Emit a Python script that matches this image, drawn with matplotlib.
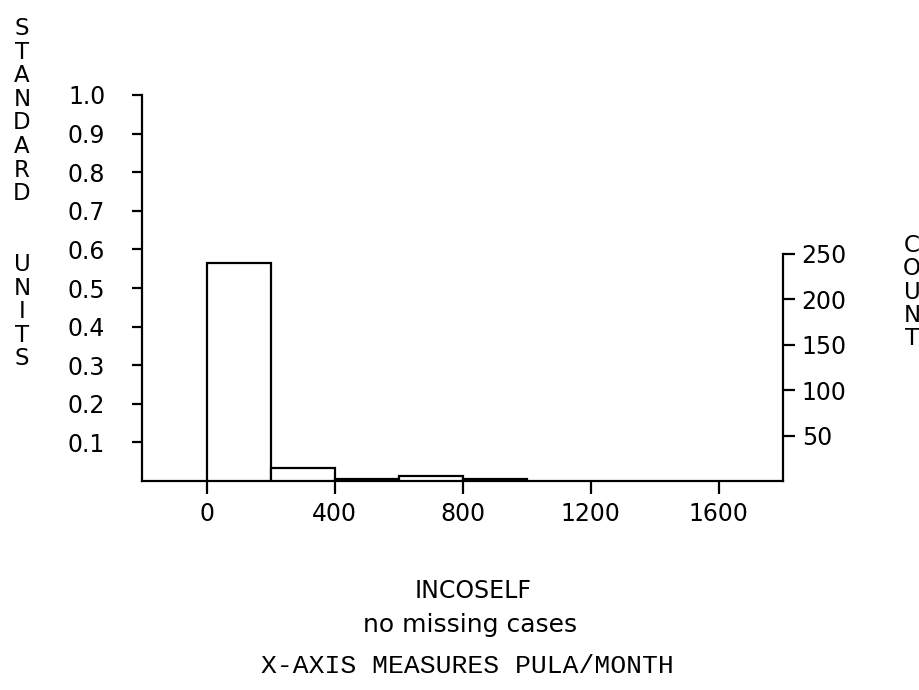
import matplotlib
matplotlib.use("Agg")
import matplotlib.pyplot as plt

# histogram of INCOSELF (pula/month)
bin_edges = [0, 200, 400, 600, 800, 1000]
counts = [240, 14, 2, 5, 2]
n_total = 425  # count that equals 1.0 standard unit

x_ticks = [0, 400, 800, 1200, 1600]
left_ticks = [0.1, 0.2, 0.3, 0.4, 0.5, 0.6, 0.7, 0.8, 0.9, 1.0]
right_ticks = [50, 100, 150, 200, 250]

W, H = 920, 690
fig = plt.figure(figsize=(W / 100, H / 100), dpi=100)
ax = fig.add_axes([142 / W, 1 - 481 / H, 641 / W, 386 / H])
ax2 = ax.twinx()

lw = 1.6
tick_fs = 17

ax.set_xlim(-202, 1801)
ax.set_ylim(0, 1.0)
ax2.set_ylim(0, n_total)

widths = [bin_edges[i + 1] - bin_edges[i] for i in range(len(counts))]
ax2.bar(bin_edges[:-1], counts, width=widths, align="edge",
        facecolor="white", edgecolor="black", linewidth=lw)

for s in ["top", "right"]:
    ax.spines[s].set_visible(False)
for s in ["top", "left", "bottom"]:
    ax2.spines[s].set_visible(False)
ax.spines["left"].set_linewidth(lw)
ax.spines["bottom"].set_linewidth(lw)
ax2.spines["right"].set_linewidth(lw)
ax2.spines["right"].set_bounds(0, 250)

ax.set_xticks(x_ticks)
ax.set_xticklabels([str(v) for v in x_ticks])
ax.set_yticks(left_ticks)
ax.set_yticklabels(["%.1f" % v for v in left_ticks])
ax2.set_yticks(right_ticks)
ax2.set_yticklabels([str(v) for v in right_ticks])

ax.tick_params(axis="x", direction="out", length=9, width=lw, pad=6,
               labelsize=tick_fs)
ax.tick_params(axis="y", direction="out", length=7.5, width=lw, pad=19,
               labelsize=tick_fs)
ax2.tick_params(axis="y", direction="out", length=8.5, width=lw, pad=5,
                labelsize=tick_fs)

# stacked letters for the axis titles
pitch = 23.6
for k, ch in enumerate("STANDARD  UNITS"):
    if ch != " ":
        fig.text(22 / W, 1 - (35 + pitch * k) / H, ch, ha="center",
                 va="baseline", fontsize=16.5)
for k, ch in enumerate("COUNT"):
    fig.text(912 / W, 1 - (252 + 23.3 * k) / H, ch, ha="center",
             va="baseline", fontsize=16.5)

fig.text(473 / W, 1 - 598 / H, "INCOSELF", ha="center", va="baseline",
         fontsize=17)
fig.text(470 / W, 1 - 632 / H, "no missing cases", ha="center",
         va="baseline", fontsize=18)
fig.text(467 / W, 1 - 673 / H, "X-AXIS MEASURES PULA/MONTH", ha="center",
         va="baseline", fontsize=19, family="Liberation Mono")

fig.savefig("out.png", dpi=100)
